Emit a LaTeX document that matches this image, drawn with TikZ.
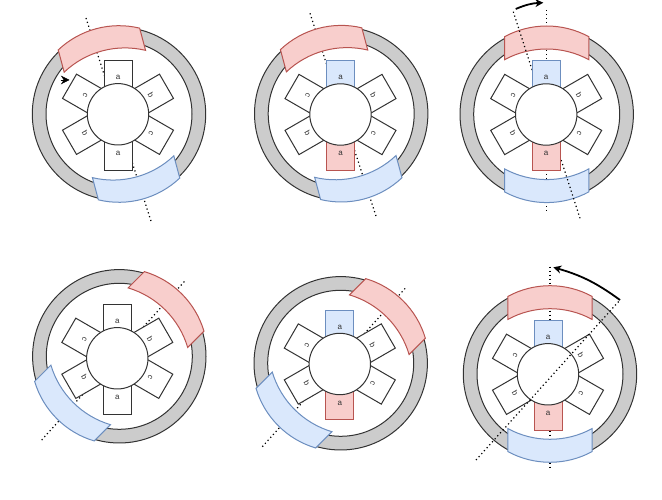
\documentclass[tikz,border=0pt]{standalone}
\usepackage{fontspec}
\setmainfont{Liberation Sans}
\usetikzlibrary{arrows.meta}
\definecolor{redfill}{HTML}{F8CECC}
\definecolor{redline}{HTML}{B85450}
\definecolor{bluefill}{HTML}{DAE8FC}
\definecolor{blueline}{HTML}{6C8EBF}
\definecolor{ringgray}{HTML}{CCCCCC}
\definecolor{ink}{HTML}{333333}
\tikzset{
  ringfill/.style={draw=ink, fill=ringgray, even odd rule, line width=1pt},
  redmag/.style={draw=redline, fill=redfill, line width=1pt},
  bluemag/.style={draw=blueline, fill=bluefill, line width=1pt},
  polewhite/.style={draw=ink, fill=white, line width=1pt},
  polered/.style={draw=redline, fill=redfill, line width=1pt},
  poleblue/.style={draw=blueline, fill=bluefill, line width=1pt},
  rotorcircle/.style={circle, draw=ink, fill=white, line width=1pt, minimum size=61.4pt, inner sep=0pt},
  poletext/.style={font=\fontsize{8}{9}\selectfont, text=ink, inner sep=0pt},
  axisline/.style={line width=1.2pt, dash pattern=on 1.2pt off 2.8pt},
  arr/.style={-{Stealth[length=8pt, width=8pt]}, line width=1.8pt}
}
\newcommand{\drawstator}[3]{
  \begin{scope}[shift={(#1,#2)}]
    \path[ringfill] (0,0) circle[radius=86.7] (0,0) circle[radius=73];
    \begin{scope}[rotate=#3]
      \path[redmag] (61.5:88.3) arc[start angle=61.5, end angle=118.5, radius=88.3] -- ++(0,-23) arc[start angle=118.5, end angle=61.5, radius=88.3] -- cycle;
    \end{scope}
    \begin{scope}[rotate=#3+180]
      \path[bluemag] (61.5:88.3) arc[start angle=61.5, end angle=118.5, radius=88.3] -- ++(0,-23) arc[start angle=118.5, end angle=61.5, radius=88.3] -- cycle;
    \end{scope}
  \end{scope}
}
\newcommand{\drawrotor}[5]{
  \begin{scope}[shift={(#2,#3)}]
    \foreach \ang in {60,120,-60,-120}
      \path[polewhite, rotate=\ang] (-14,0) rectangle (14,56);
    \path[#4] (-14,0) rectangle (14,53.7);
    \path[#5] (-14,-56) rectangle (14,0);
    \node[rotorcircle] (#1rotor) at (0,0) {};
    \node[poletext] (#1atop) at (0,37) {a};
    \node[poletext] (#1abot) at (0,-39) {a};
    \node[poletext, rotate=-60] (#1btop) at (30:38) {b};
    \node[poletext, rotate=-60] (#1bbot) at (210:38) {b};
    \node[poletext, rotate=-120] (#1ctop) at (150:38) {c};
    \node[poletext, rotate=-120] (#1cbot) at (-30:38) {c};
  \end{scope}
}
\begin{document}
\begin{tikzpicture}[x=1pt, y=1pt]
    \useasboundingbox (0,0) rectangle (662,500);
    \coordinate (axisas) at (86,482);
    \coordinate (axisae) at (151.5,277.3);
    \coordinate (axisbs) at (310,486.7);
    \coordinate (axisbe) at (376.7,281.7);
    \coordinate (axiscs) at (546.7,490);
    \coordinate (axisce) at (546.7,287.3);
    \coordinate (tiltcs) at (513.3,488.3);
    \coordinate (tiltce) at (580,281.7);
    \coordinate (axisds) at (41.7,60);
    \coordinate (axisde) at (185.7,220);
    \coordinate (axises) at (262.3,53.3);
    \coordinate (axisee) at (406.7,213.3);
    \coordinate (axisfs) at (550,233.3);
    \coordinate (axisfe) at (550,30);
    \coordinate (tiltfs) at (476,40);
    \coordinate (tiltfe) at (620,200);
    \coordinate (turncs) at (515.7,491);
    \coordinate (turnce) at (543.3,497.3);
    \coordinate (turnfe) at (553.3,232.7);
    \coordinate (headas) at (60.7,420);
    \coordinate (headae) at (69.5,420);

    \draw[axisline] (axisas) -- (axisae);
    \drawstator{119}{386}{15}
    \drawrotor{ma}{118}{385.7}{polewhite}{polewhite}
    \draw[-{Stealth[length=8.5pt, width=8.5pt]}] (headas) -- (headae);

    \draw[axisline] (axisbs) -- (axisbe);
    \drawstator{341.2}{386.3}{15}
    \drawrotor{mb}{340.5}{385.5}{poleblue}{polered}

    \draw[axisline] (axiscs) -- (axisce);
    \drawstator{546.7}{385.7}{0}
    \draw[axisline] (tiltcs) -- (tiltce);
    \drawrotor{mc}{546.2}{385.5}{poleblue}{polered}
    \draw[arr] (turncs) to[bend left=10] (turnce);

    \draw[axisline] (axisds) -- (axisde);
    \drawstator{119.3}{143.7}{-45}
    \drawrotor{md}{117.3}{141.7}{polewhite}{polewhite}

    \draw[axisline] (axises) -- (axisee);
    \drawstator{340.7}{136.7}{-45}
    \drawrotor{me}{339.8}{136}{poleblue}{polered}

    \draw[axisline] (axisfs) -- (axisfe);
    \drawstator{550}{126}{0}
    \drawrotor{mf}{548}{125.7}{poleblue}{polered}
    \draw[axisline] (tiltfs) -- (tiltfe);
    \draw[arr] (tiltfe) to[bend right=10] (turnfe);
\end{tikzpicture}
\end{document}
